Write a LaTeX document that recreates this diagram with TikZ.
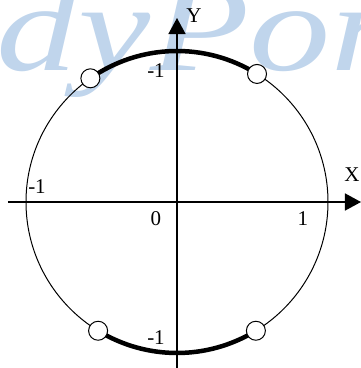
\documentclass[tikz,border=0pt]{standalone}
\usepackage{fontspec}
\setmainfont{Liberation Serif}
\usetikzlibrary{arrows.meta}
\definecolor{markblue}{RGB}{192,213,236}
\begin{document}
\begin{tikzpicture}[x=1pt,y=1pt,
  axis/.style={line width=1.5pt,-{Triangle[length=16pt,width=17pt]}},
  valve/.style={circle,draw,fill=white,line width=1pt,minimum size=19pt,inner sep=0pt},
  lbl/.style={font=\fontsize{21}{21}\selectfont,inner sep=0pt}]
  \useasboundingbox (-177,-166) rectangle (184,202);
  % watermark behind the drawing
  \begin{scope}
    \clip (-177,-166) rectangle (184,202);
    \node[markblue,font=\fontsize{125}{125}\selectfont\itshape,anchor=base west,inner sep=0pt]
      (mark) at (-388,132) {\scalebox{1.3}[1]{StudyPortal}};
  \end{scope}
  \coordinate (O) at (0,0);
  \coordinate (xl) at (-169,0);
  \coordinate (xr) at (184,0);
  \coordinate (yb) at (0,-166);
  \coordinate (yt) at (0,184);
  \draw[line width=1pt] (O) circle[radius=151];
  \draw[axis] (xl) -- (xr);
  \draw[axis] (yb) -- (yt);
  % end points of the two thick arcs
  \coordinate (p1) at (125:151);
  \coordinate (p2) at (58:151);
  \coordinate (p3) at (-121.5:151);
  \coordinate (p4) at (-58.5:151);
  \draw[line width=4.5pt] (p2) arc[start angle=58,end angle=125,radius=151];
  \draw[line width=4.5pt] (p3) arc[start angle=-121.5,end angle=-58.5,radius=151];
  \node[valve] (v1) at (p1) {};
  \node[valve] (v2) at (p2) {};
  \node[valve] (v3) at (p3) {};
  \node[valve] (v4) at (p4) {};
  \node[lbl] (ly) at (17,186) {Y};
  \node[lbl] (lx) at (175,27) {X};
  \node[lbl] (xm) at (-140,15) {-1};
  \node[lbl] (zero) at (-21,-17) {0};
  \node[lbl] (xp) at (126,-17) {1};
  \node[lbl] (yp) at (-21,131) {-1};
  \node[lbl] (ym) at (-21,-136) {-1};
\end{tikzpicture}
\end{document}
